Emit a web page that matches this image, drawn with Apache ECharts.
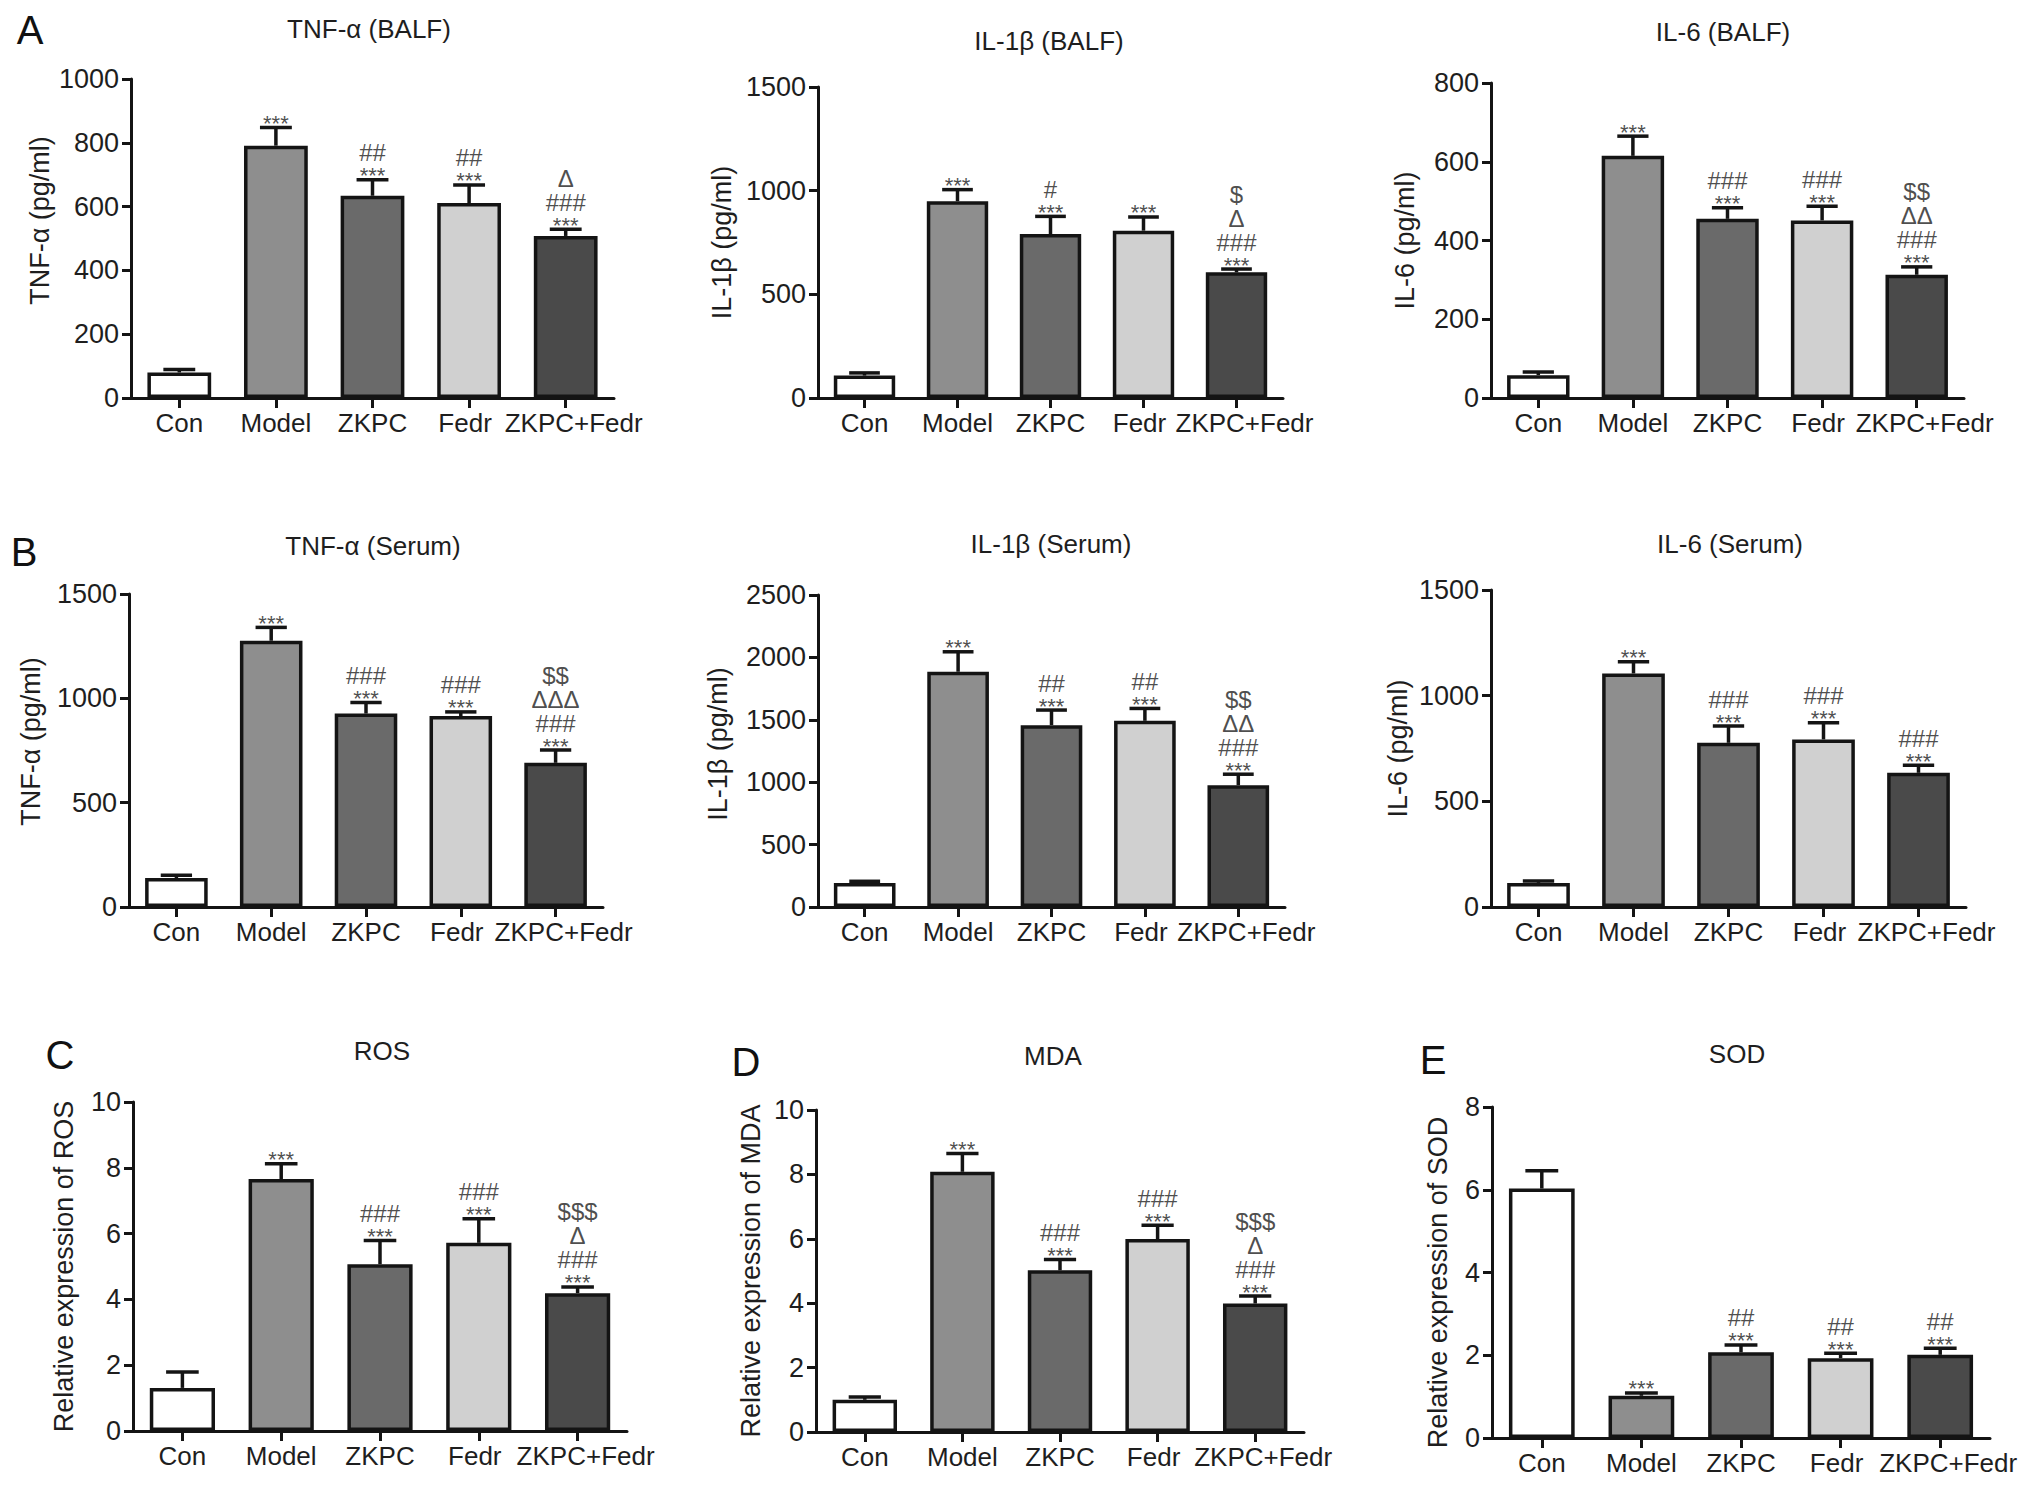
<!DOCTYPE html>
<html>
<head>
<meta charset="utf-8">
<script src="https://cdn.jsdelivr.net/npm/echarts@6/dist/echarts.min.js"></script>
<style>
html,body{margin:0;padding:0;background:#fff;}
#chart{width:2031px;height:1488px;}
</style>
</head>
<body>
<div id="chart"></div>
<script>
// ---------------- DATA ----------------
const categories = ['Con', 'Model', 'ZKPC', 'Fedr', 'ZKPC+Fedr'];

const tnfBalfMean   = [80, 791, 634, 611, 508];
const tnfBalfErr    = [89, 848, 684, 668, 529];
const il1bBalfMean  = [108, 949, 791, 807, 606];
const il1bBalfErr   = [121, 1005, 876, 873, 622];
const il6BalfMean   = [58, 615, 455, 451, 313];
const il6BalfErr    = [66, 665, 483, 487, 333];

const tnfSerumMean  = [139, 1276, 927, 915, 691];
const tnfSerumErr   = [152, 1340, 980, 935, 752];
const il1bSerumMean = [193, 1885, 1457, 1492, 976];
const il1bSerumErr  = [206, 2045, 1578, 1591, 1064];
const il6SerumMean  = [114, 1105, 777, 793, 635];
const il6SerumErr   = [123, 1161, 856, 872, 671];

const rosMean = [1.31, 7.66, 5.07, 5.72, 4.19];
const rosErr  = [1.79, 8.12, 5.79, 6.45, 4.38];
const mdaMean = [1.00, 8.08, 5.02, 5.99, 3.99];
const mdaErr  = [1.09, 8.65, 5.36, 6.42, 4.22];
const sodMean = [6.03, 1.02, 2.07, 1.93, 2.01];
const sodErr  = [6.46, 1.09, 2.25, 2.05, 2.17];

const tnfBalfSig   = ['', '***', '##\n***', '##\n***', 'Δ\n###\n***'];
const il1bBalfSig  = ['', '***', '#\n***', '***', '$\nΔ\n###\n***'];
const il6BalfSig   = ['', '***', '###\n***', '###\n***', '$$\nΔΔ\n###\n***'];
const tnfSerumSig  = ['', '***', '###\n***', '###\n***', '$$\nΔΔΔ\n###\n***'];
const il1bSerumSig = ['', '***', '##\n***', '##\n***', '$$\nΔΔ\n###\n***'];
const il6SerumSig  = ['', '***', '###\n***', '###\n***', '###\n***'];
const rosSig       = ['', '***', '###\n***', '###\n***', '$$$\nΔ\n###\n***'];
const mdaSig       = ['', '***', '###\n***', '###\n***', '$$$\nΔ\n###\n***'];
const sodSig       = ['', '***', '##\n***', '##\n***', '##\n***'];

const panelTitles = ['TNF-α (BALF)', 'IL-1β (BALF)', 'IL-6 (BALF)',
                     'TNF-α (Serum)', 'IL-1β (Serum)', 'IL-6 (Serum)',
                     'ROS', 'MDA', 'SOD'];
const yNames = ['TNF-α (pg/ml)', 'IL-1β (pg/ml)', 'IL-6 (pg/ml)',
                'TNF-α (pg/ml)', 'IL-1β (pg/ml)', 'IL-6 (pg/ml)',
                'Relative expression of ROS', 'Relative expression of MDA', 'Relative expression of SOD'];
const yMax  = [1000, 1500, 800, 1500, 2500, 1500, 10, 10, 8];
const yStep = [200, 500, 200, 500, 500, 500, 2, 2, 2];
const panelLetters = ['A', 'B', 'C', 'D', 'E'];

const means = [tnfBalfMean, il1bBalfMean, il6BalfMean, tnfSerumMean, il1bSerumMean, il6SerumMean, rosMean, mdaMean, sodMean];
const errs  = [tnfBalfErr, il1bBalfErr, il6BalfErr, tnfSerumErr, il1bSerumErr, il6SerumErr, rosErr, mdaErr, sodErr];
const sigs  = [tnfBalfSig, il1bBalfSig, il6BalfSig, tnfSerumSig, il1bSerumSig, il6SerumSig, rosSig, mdaSig, sodSig];

// ---------------- LAYOUT / STYLE ----------------
const FONT = "'Liberation Sans', Arial, Helvetica, sans-serif";
const barColors = ['#ffffff', '#8e8e8e', '#6a6a6a', '#d0d0d0', '#4a4a4a'];
const INK = '#141414';
const TXT = '#1e1e1e';

// namePad shifts the rotated axis name along the axis (left pad = up, right pad = down)
const grids = [
  {left: 131, top: 79,   width: 483, height: 319, gap: 78, namePad: [0, 0, 0, 36]},
  {left: 818, top: 87,   width: 465, height: 311, gap: 83, namePad: [0, 0, 0, 0]},
  {left: 1491, top: 83,  width: 473, height: 315, gap: 73, namePad: [0, 0, 0, 0]},
  {left: 129, top: 594,  width: 474, height: 313, gap: 85, namePad: [0, 0, 0, 18]},
  {left: 818, top: 595,  width: 467, height: 312, gap: 87, namePad: [0, 0, 0, 14]},
  {left: 1491, top: 590, width: 475, height: 317, gap: 80, namePad: [0, 0, 0, 0]},
  {left: 133, top: 1102, width: 494, height: 329, gap: 56, namePad: [0, 0, 0, 0]},
  {left: 816, top: 1110, width: 488, height: 322, gap: 52, namePad: [0, 0, 0, 0]},
  {left: 1492, top: 1107, width: 498, height: 331, gap: 41, namePad: [0, 20, 0, 0]}
];
const titlePos = [[369, 29], [1049, 41], [1723, 32], [373, 546], [1051, 544], [1730, 544], [382, 1051], [1053, 1056], [1737, 1054]];
const letterPos = [[30, 30], [24, 552], [60, 1055], [746, 1062], [1433, 1060]];

function errRender(params, api) {
  const xi = api.value(0);
  const p0 = api.coord([xi, api.value(1)]);
  const p1 = api.coord([xi, api.value(2)]);
  const bw = api.size([1, 0])[0];
  const half = bw * 0.165;
  const st = {stroke: INK, lineWidth: 3.5, fill: null};
  return {
    type: 'group',
    children: [
      {type: 'line', shape: {x1: p0[0], y1: p0[1], x2: p1[0], y2: p1[1]}, style: st},
      {type: 'line', shape: {x1: p0[0] - half, y1: p1[1], x2: p0[0] + half, y2: p1[1]}, style: st}
    ]
  };
}

const catRich = {
  n: {fontSize: 26, color: TXT, fontFamily: FONT},
  f: {fontSize: 26, color: TXT, fontFamily: FONT, padding: [0, 8, 0, 0]},
  c: {fontSize: 26, color: TXT, fontFamily: FONT, padding: [0, 0, 0, 16]}
};
function catFormatter(v) {
  if (v === 'Fedr') return '{f|' + v + '}';
  if (v === 'ZKPC+Fedr') return '{c|' + v + '}';
  return '{n|' + v + '}';
}

const option = {
  animation: false,
  backgroundColor: '#ffffff',
  textStyle: {fontFamily: FONT},
  grid: [], xAxis: [], yAxis: [], series: [], graphic: []
};

for (let k = 0; k < 9; k++) {
  const g = grids[k];
  option.grid.push({left: g.left, top: g.top, width: g.width, height: g.height, containLabel: false});
  option.xAxis.push({
    type: 'category', gridIndex: k, data: categories,
    axisLine: {show: true, lineStyle: {color: INK, width: 3}},
    axisTick: {show: true, alignWithLabel: true, length: 10, lineStyle: {color: INK, width: 3}},
    axisLabel: {interval: 0, fontSize: 26, margin: 12, color: TXT, fontFamily: FONT, formatter: catFormatter, rich: catRich},
    splitLine: {show: false}
  });
  option.yAxis.push({
    type: 'value', gridIndex: k, min: 0, max: yMax[k], interval: yStep[k],
    name: yNames[k], nameLocation: 'middle', nameRotate: 90, nameGap: g.gap,
    nameTextStyle: {fontSize: 27, color: TXT, fontFamily: FONT, padding: g.namePad},
    axisLine: {show: true, lineStyle: {color: INK, width: 3}},
    axisTick: {show: true, length: 9, lineStyle: {color: INK, width: 3}},
    axisLabel: {fontSize: 27, margin: 12, color: TXT, fontFamily: FONT, formatter: (v) => String(v)},
    splitLine: {show: false}
  });
  const m = means[k], e = errs[k], s = sigs[k];
  option.series.push({
    type: 'bar', xAxisIndex: k, yAxisIndex: k, barWidth: '66%',
    data: m.map((v, i) => ({value: v, itemStyle: {color: barColors[i], borderColor: INK, borderWidth: 3.5}})),
    z: 2
  });
  option.series.push({
    type: 'custom', xAxisIndex: k, yAxisIndex: k, renderItem: errRender,
    data: m.map((v, i) => [i, v, e[i]]), z: 3, silent: true
  });
  option.series.push({
    type: 'scatter', xAxisIndex: k, yAxisIndex: k, symbolSize: 0, silent: true, z: 4,
    data: e.map((v, i) => [i, v]),
    label: {
      show: true, position: 'top', distance: 0, offset: [0, 7],
      formatter: (p) => {
        const txt = s[p.dataIndex];
        if (!txt) return '';
        return txt.split('\n').map(l => l === '***' ? '{s|***}' : '{h|' + l + '}').join('\n');
      },
      rich: {
        h: {fontSize: 24, lineHeight: 24, color: TXT, fontFamily: FONT},
        s: {fontSize: 22, lineHeight: 22, color: TXT, fontFamily: FONT}
      }
    }
  });
  option.graphic.push({
    type: 'text', x: titlePos[k][0], y: titlePos[k][1],
    style: {text: panelTitles[k], fontSize: 26, fontFamily: FONT, fill: TXT, textAlign: 'center', textVerticalAlign: 'middle'}
  });
}
for (let j = 0; j < panelLetters.length; j++) {
  option.graphic.push({
    type: 'text', x: letterPos[j][0], y: letterPos[j][1],
    style: {text: panelLetters[j], fontSize: 40, fontFamily: FONT, fill: '#111', textAlign: 'center', textVerticalAlign: 'middle'}
  });
}

const chart = echarts.init(document.getElementById('chart'), null, {renderer: 'svg'});
chart.setOption(option);
</script>
</body>
</html>
